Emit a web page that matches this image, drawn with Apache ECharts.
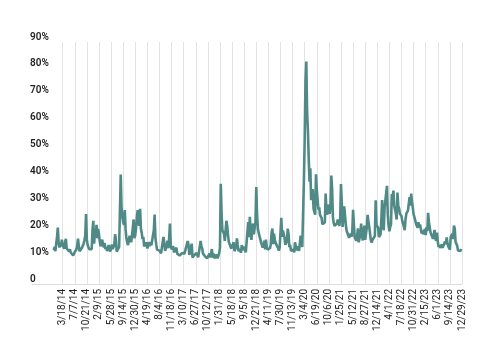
<!DOCTYPE html>
<html>
<head>
<meta charset="utf-8">
<script src="https://cdn.jsdelivr.net/npm/echarts@6/dist/echarts.min.js"></script>
<style>
  html, body { margin: 0; padding: 0; background: #ffffff; }
  #chart { width: 500px; height: 362px; }
</style>
</head>
<body>
<div id="chart"></div>
<script>
// Tick labels on the x axis (one every 15 weekly steps = 75 trading days)
const tickLabels = ['3/18/14','7/7/14','10/21/14','2/9/15','5/28/15','9/14/15','12/30/15','4/19/16','8/4/16','11/18/16','3/10/17','6/27/17','10/12/17','1/31/18','5/18/18','9/5/18','12/21/18','4/11/19','7/30/19','11/13/19','3/4/20','6/19/20','10/6/20','1/25/21','5/12/21','8/27/21','12/14/21','4/1/22','7/18/22','10/31/22','2/15/23','6/1/23','9/14/23','12/29/23'];
const stepsPerLabel = 15;
const firstStep = -11;   // series starts 11 weekly steps before the first tick label
const axisMinStep = -38; // axis begins before the data
const axisMaxStep = 495;

// Weekly volatility values (%)
const vals2014 = [12.5, 13.8, 12.2, 12.4, 17.5, 21.0, 15.5, 13.6, 14.8, 14.0, 16.5,
  14.5, 15.2, 13.1, 15.5, 16.8, 13.2, 13.4, 13.8, 12.1, 12.9, 11.7, 11.6, 11.8, 10.6, 11.3,
  11.9, 11.5, 12.8, 14.0, 16.9, 14.2, 12.2, 11.9, 12.4, 13.5, 13.2, 15.0, 16.3, 18.0, 26.0,
  16.5, 14.4, 14.2, 12.9, 13.6, 12.4, 12.9, 20.0, 23.5, 15.0, 19.2, 17.5, 22.0, 17.0, 20.5];
const vals2015 = [18.5, 15.8, 14.0, 14.0, 16.5, 15.0, 13.6, 15.3, 13.0, 13.9, 12.3, 13.1, 14.5, 13.0, 12.1,
  13.3, 14.7, 13.0, 13.2, 14.5, 18.5, 16.5, 12.0, 12.6, 12.1, 13.8, 13.5, 40.7, 28.0, 25.0,
  23.0, 22.0, 27.5, 20.5, 17.0, 15.5, 14.5, 15.0, 18.0, 17.0, 15.5, 15.0, 21.0, 24.0, 17.0];
const vals2016 = [18.2, 21.0, 25.0, 27.5, 22.5, 21.7, 28.0, 20.5, 19.1, 16.7, 17.5, 14.0, 14.0, 13.9, 15.5,
  13.2, 13.9, 15.6, 14.0, 15.6, 14.4, 14.2, 14.1, 20.0, 25.8, 17.0, 14.8, 12.8, 12.7, 12.7,
  12.4, 11.7, 11.4, 13.6, 13.5, 17.5, 15.0, 12.3, 13.3, 13.5, 16.1, 13.3, 17.0, 22.5, 14.2,
  12.9, 12.3, 14.1, 11.8, 12.2, 11.4, 13.5, 11.3, 11.2, 11.5, 10.6, 11.0, 10.9, 11.5, 12.0];
const vals2017 = [11.7, 11.3, 12.5, 12.4, 13.0, 16.0, 14.6, 10.8, 10.6, 10.4, 15.0, 9.8, 9.9, 10.7, 10.4,
  11.0, 11.5, 10.9, 9.9, 9.4, 10.1, 16.0, 14.0, 13.2, 11.3, 11.6, 10.5, 9.8, 9.9, 9.5,
  9.9, 10.0, 11.3, 9.9, 10.5, 13.0, 9.9, 11.4, 9.6, 10.2, 9.9, 11.0, 9.5, 10.5, 11.5];
const vals2018 = [13.5, 37.3, 26.0, 20.0, 19.9, 18.7, 16.0, 20.0, 23.5, 21.5, 18.0, 15.6, 16.2, 15.9, 13.2,
  13.4, 13.2, 15.5, 12.2, 11.6, 13.8, 17.0, 14.5, 12.2, 12.9, 13.0, 11.6, 14.5, 12.6, 11.9,
  13.9, 13.2, 11.8, 12.4, 11.6, 23.0, 17.4, 25.0, 19.5, 16.4, 20.0, 22.5, 18.5, 21.0, 23.0];
const vals2019 = [36.1, 25.4, 20.5, 19.0, 18.9, 16.6, 15.4, 15.6, 13.5, 14.6, 16.1, 12.9, 16.5, 13.7, 12.8,
  13.0, 12.1, 13.3, 14.8, 19.1, 20.6, 14.8, 18.7, 16.3, 15.3, 15.4, 15.1, 13.3, 12.4, 13.5,
  13.9, 24.6, 17.5, 19.9, 20.3, 17.3, 14.6, 13.9, 15.9, 20.6, 18.6, 13.7, 14.5, 12.3, 12.6,
  13.0, 12.8, 11.8, 15.5, 14.0, 12.5, 12.7, 14.0, 12.3, 12.8, 18.0, 17.0, 13.7, 14.4, 38.0];
const vals2020 = [54.0, 75.5, 82.7, 64.0, 57.1, 46.8, 38.0, 43.0, 31.2, 34.1, 35.3, 27.9, 28.6, 25.8, 40.8,
  35.1, 34.7, 27.7, 28.5, 25.7, 25.8, 24.5, 22.2, 22.1, 22.5, 23.0, 33.6, 26.9, 25.8, 28.6,
  29.5, 26.1, 29.4, 40.3, 35.5, 24.8, 22.7, 21.6, 21.2, 22.3, 22.5, 24.0, 22.8, 21.6, 24.3];
const vals2021 = [37.2, 30.2, 21.2, 21.5, 28.9, 28.6, 22.0, 19.8, 20.3, 19.6, 17.2, 16.9, 18.7, 17.6, 19.5,
  27.6, 22.2, 17.4, 18.0, 16.1, 17.8, 20.7, 15.5, 16.2, 18.5, 22.5, 18.2, 16.2, 15.5, 21.7,
  16.4, 16.4, 20.9, 25.7, 23.3, 21.3, 18.8, 16.3, 15.4, 16.3, 16.5, 16.3, 17.9, 31.1, 21.9];
const vals2022 = [21.9, 21.0, 17.5, 16.9, 18.4, 23.9, 31.2, 22.1, 20.0, 28.3, 31.0, 30.5, 36.5, 25.7, 21.7,
  19.6, 21.2, 22.2, 33.5, 32.3, 34.75, 29.0, 28.5, 26.2, 24.0, 34.0, 29.0, 28.2, 26.1, 26.4,
  25.3, 23.4, 22.8, 21.3, 20.0, 24.0, 26.2, 26.9, 27.3, 27.2, 32.3, 29.1, 33.6, 30.5, 28.5,
  25.9, 24.9, 23.7, 22.4, 21.9, 20.9, 23.0, 21.0, 22.1, 22.5, 18.8, 19.9, 18.5, 18.3, 20.5];
const vals2023 = [18.2, 21.1, 19.6, 26.5, 23.0, 22.6, 19.1, 18.4, 18.9, 16.8, 17.0, 20.1, 16.9, 16.1, 19.1,
  15.7, 13.7, 14.5, 13.4, 13.6, 14.8, 13.5, 13.9, 13.6, 15.8, 14.8, 17.3, 15.1, 14.0, 14.2,
  12.8, 17.5, 17.3, 18.6, 16.7, 21.7, 20.7, 15.7, 15.3, 14.2, 12.5, 12.6, 12.4, 12.3, 13.0,
  12.45];

const allValues = [].concat(vals2014, vals2015, vals2016, vals2017, vals2018, vals2019, vals2020, vals2021, vals2022, vals2023);

// category axis: one category per weekly step
const categories = [];
for (let s = axisMinStep; s <= axisMaxStep; s++) categories.push(String(s));
const seriesData = allValues.map((v, i) => [String(firstStep + i), v]);
const isTick = (idx) => {
  const s = idx + axisMinStep;
  return s >= 0 && s % stepsPerLabel === 0;
};

const chart = echarts.init(document.getElementById('chart'), null, { renderer: 'canvas' });
chart.setOption({
  animation: false,
  backgroundColor: '#ffffff',
  grid: { left: 32, right: 38, top: 42, bottom: 78, containLabel: false },
  xAxis: {
    type: 'category',
    data: categories,
    boundaryGap: false,
    axisLine: { show: true, lineStyle: { color: '#dddddd', width: 1 } },
    axisTick: { show: false, interval: (idx) => isTick(idx) },
    splitLine: { show: true, interval: (idx) => isTick(idx), lineStyle: { color: '#e3e3e3', width: 1 } },
    axisLabel: {
      interval: (idx) => isTick(idx),
      rotate: 90,
      margin: 5,
      fontSize: 10,
      fontFamily: 'Roboto',
      color: '#222222',
      formatter: (v) => tickLabels[Math.round(Number(v) / stepsPerLabel)] || ''
    }
  },
  yAxis: {
    type: 'value',
    min: 0,
    max: 90,
    interval: 10,
    axisLine: { show: false },
    axisTick: { show: false },
    splitLine: { show: false },
    axisLabel: {
      inside: true,
      margin: -2,
      verticalAlign: 'bottom',
      fontSize: 10,
      fontWeight: 600,
      fontFamily: 'Roboto',
      color: '#222222',
      formatter: (v) => (v === 0 ? '0' : v + '%')
    }
  },
  series: [{
    type: 'line',
    data: seriesData,
    showSymbol: false,
    symbol: 'none',
    sampling: 'none',
    lineStyle: { color: '#4f8a87', width: 2.6 },
    z: 5
  }]
});
</script>
</body>
</html>
